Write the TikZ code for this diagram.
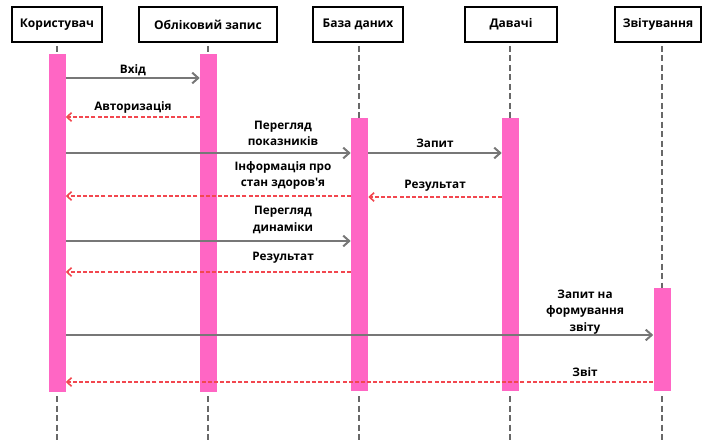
\documentclass[tikz,border=0pt]{standalone}
\usepackage{fontspec}
\setmainfont{Open Sans}[Ligatures=TeXOff]
\usetikzlibrary{arrows.meta}
\definecolor{barpink}{HTML}{FF66C4}
\definecolor{msggray}{HTML}{777777}
\definecolor{retred}{HTML}{F2474F}
\definecolor{lifegray}{HTML}{686868}
\begin{document}
\begin{tikzpicture}[x=0.75pt,y=-0.75pt,
  actor/.style={draw=black, line width=1.5pt, fill=white, minimum height=26pt,
    inner sep=0pt, font=\bfseries\fontsize{9}{11}\selectfont},
  life/.style={draw=lifegray, line width=2pt, dash pattern=on 4.5pt off 2.6pt},
  actbar/.style={fill=barpink, draw=none, minimum width=12.75pt, inner sep=0pt},
  call/.style={draw=msggray, line width=1.7pt,
    -{Straight Barb[length=4.5pt,width=8pt,line width=1.5pt]}},
  reply/.style={draw=retred, line width=1.2pt, dash pattern=on 3pt off 1.6pt,
    -{Straight Barb[length=3.5pt,width=6.5pt,line width=1.2pt]}},
  lbl/.style={font=\bfseries\fontsize{8.8}{12.5}\selectfont, align=center, inner sep=0pt}
]
\useasboundingbox (0,0) rectangle (702,442);

% lifelines
\coordinate (uL) at (57,46);  \coordinate (aL) at (208,46);
\coordinate (dL) at (359,46); \coordinate (sL) at (510,46);
\coordinate (rL) at (662,46);
\coordinate (bottom) at (0,442);
\foreach \c in {uL,aL,dL,sL,rL}{
  \draw[life] (\c) -- (\c |- bottom);
}

% activation bars
\node[actbar, minimum height=252.75pt] (ub) at (57,223) {};
\node[actbar, minimum height=252.75pt] (ab) at (208.5,223) {};
\node[actbar, minimum height=204.75pt] (db) at (359.5,254.5) {};
\node[actbar, minimum height=204.75pt] (sb) at (510.5,254.5) {};
\node[actbar, minimum height=77.25pt] (rb) at (662,339.5) {};
% short gaps where the lifelines leave the bars
\foreach \b in {ub,ab,db,sb,rb}{
  \fill[white] ([xshift=-2pt]\b.south west) rectangle ([xshift=2pt,yshift=-2.5pt]\b.south east);
}

% message rows
\coordinate (y1) at (0,78);   \coordinate (y2) at (0,117);
\coordinate (y3) at (0,153);  \coordinate (y5) at (0,196);
\coordinate (y6) at (0,197);  \coordinate (y7) at (0,241);
\coordinate (y8) at (0,272);  \coordinate (y9) at (0,335);
\coordinate (y10) at (0,382);

% calls
\draw[call] (ub.east |- y1) -- (ab.west |- y1);
\draw[call] (ub.east |- y3) -- (db.west |- y3);
\draw[call] (db.east |- y3) -- (sb.west |- y3);
\draw[call] (ub.east |- y7) -- (db.west |- y7);
\draw[call] (ub.east |- y9) -- (rb.west |- y9);

% replies
\draw[reply] (ab.west |- y2) -- (ub.east |- y2);
\draw[reply] (db.west |- y5) -- (ub.east |- y5);
\draw[reply] (sb.west |- y6) -- (db.east |- y6);
\draw[reply] (db.west |- y8) -- (ub.east |- y8);
\draw[reply] (rb.west |- y10) -- (ub.east |- y10);

% message labels
\node[lbl] (t1) at (133,70) {Вхід};
\node[lbl] (t2) at (133,107) {Авторизація};
\node[lbl] (t3) at (283,133.5) {Перегляд\\показників};
\node[lbl] (t4) at (435,143) {Запит};
\node[lbl] (t5) at (283,175.5) {Інформація про\\стан здоров'я};
\node[lbl] (t6) at (435,186) {Результат};
\node[lbl] (t7) at (283,220) {Перегляд\\динаміки};
\node[lbl] (t8) at (283,258) {Результат};
\node[lbl] (t9) at (585,312) {Запит на\\формування\\звіту};
\node[lbl] (t10) at (585,372) {Звіт};

% participants
\node[actor, minimum width=67.5pt] (u) at (57,24.5) {Користувач};
\node[actor, minimum width=103.5pt] (a) at (208,24.5) {Обліковий запис};
\node[actor, minimum width=67.5pt] (d) at (358,24.5) {База даних};
\node[actor, minimum width=69pt] (s) at (511,24.5) {Давачі};
\node[actor, minimum width=64pt] (r) at (658,24.5) {Звітування};
\end{tikzpicture}
\end{document}
